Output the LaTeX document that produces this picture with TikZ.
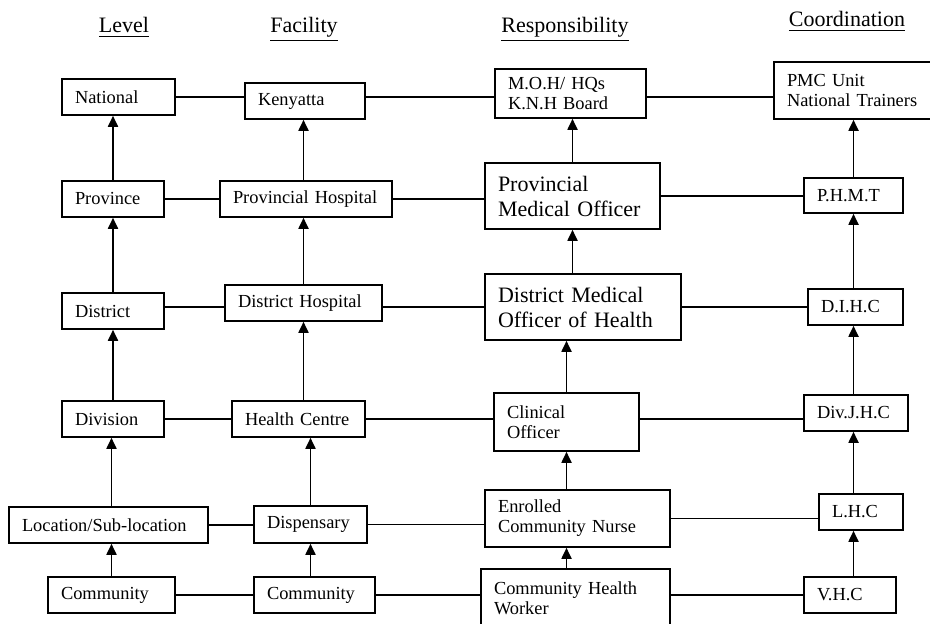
\documentclass[tikz,border=0pt]{standalone}
\usepackage{fontspec}
\setmainfont{Liberation Serif}
\usetikzlibrary{arrows.meta}

\begin{document}
\begin{tikzpicture}[x=0.5pt,y=-0.5pt,
  box/.style={draw,line width=.8pt,inner xsep=6.5pt,inner ysep=0pt,minimum height=18pt,align=left,font=\fontsize{9.2pt}{10pt}\selectfont},
  big/.style={box,font=\fontsize{11pt}{12.5pt}\selectfont},
  head/.style={anchor=base,font=\fontsize{11pt}{13pt}\selectfont},
  up/.style={-{Triangle[length=5.5pt,width=5pt]},line width=.9pt},
  link/.style={line width=.8pt}]
\clip (0,0) rectangle (930,624);

\node[head] (hlevel) at (124,33) {\underline{Level}};
\node[head] (hfacility) at (304,33) {\underline{Facility}};
\node[head] (hresp) at (565,33) {\underline{Responsibility}};
\node[head] (hcoord) at (847,27) {\underline{Coordination}};

\node[box,text width=43.5pt] (national) at (118.5,97) {National};
\node[box,text width=38pt] (province) at (113,199) {Province};
\node[box,text width=38pt] (district) at (113,311) {District};
\node[box,text width=38pt] (division) at (113,419) {Division};
\node[box,text width=86.5pt] (location) at (108.5,525) {Location/Sub-location};
\node[box,text width=50.5pt] (commA) at (111.5,595) {Community};

\node[box,text width=47pt] (kenyatta) at (305,101) {Kenyatta};
\node[box,text width=73pt] (provhosp) at (306,199) {Provincial Hospital};
\node[box,text width=65.5pt] (disthosp) at (303.5,303) {District Hospital};
\node[box,text width=53.5pt] (hcentre) at (298.5,419) {Health Centre};
\node[box,text width=43.5pt,minimum height=18.5pt] (dispensary) at (310.5,524.5) {Dispensary};
\node[box,text width=47.5pt] (commB) at (314.5,595) {Community};

\node[box,text width=62.5pt,minimum height=24.5pt] (moh) at (570.5,93.5) {M.O.H/ HQs\\K.N.H Board};
\node[big,text width=74.5pt,minimum height=33pt] (pmo) at (572.5,196) {Provincial\\Medical Officer};
\node[big,text width=85pt,minimum height=33pt] (dmoh) at (583,307) {District Medical\\Officer of Health};
\node[box,text width=59.5pt,minimum height=29pt] (clinical) at (566.5,422) {Clinical\\Officer};
\node[box,text width=79.5pt,minimum height=28.5pt] (ecn) at (577.5,518.5) {Enrolled\\Community Nurse};
\node[box,text width=81.5pt,minimum height=29pt] (chw) at (575.5,598) {Community Health\\Worker};

\node[box,text width=67pt,minimum height=28.5pt] (pmc) at (854,90.5) {PMC Unit\\National Trainers};
\node[box,text width=36.5pt,minimum height=17.5pt] (phmt) at (853.5,195.5) {P.H.M.T};
\node[box,text width=34.5pt] (dihc) at (855.5,307) {D.I.H.C};
\node[box,text width=39pt] (divjhc) at (856,413) {Div.J.H.C};
\node[box,text width=29pt] (lhc) at (861,512) {L.H.C};
\node[box,text width=33pt] (vhc) at (850,595) {V.H.C};

\draw[link] (national.east) -- (kenyatta.west |- national.east);
\draw[link] (kenyatta.east |- national.east) -- (moh.west |- national.east);
\draw[link] (moh.east |- national.east) -- (pmc.west |- national.east);
\draw[link] (province.east) -- (province.east -| provhosp.west);
\draw[link] (provhosp.east) -- (provhosp.east -| pmo.west);
\draw[link] (pmo.east) -- (pmo.east -| phmt.west);
\draw[link] (district.east |- dmoh.east) -- (disthosp.west |- dmoh.east);
\draw[link] (disthosp.east |- dmoh.east) -- (dmoh.west);
\draw[link] (dmoh.east) -- (dmoh.east -| dihc.west);
\draw[link] (division.east) -- (division.east -| hcentre.west);
\draw[link] (hcentre.east) -- (hcentre.east -| clinical.west);
\draw[link] (clinical.east |- division.east) -- (divjhc.west |- division.east);
\draw[link] (location.east) -- (location.east -| dispensary.west);
\draw[link] (dispensary.east) -- (dispensary.east -| ecn.west);
\draw[link] (ecn.east) -- (ecn.east -| lhc.west);
\draw[link] (commA.east) -- (commA.east -| commB.west);
\draw[link] (commB.east) -- (commB.east -| chw.west);
\draw[link] (chw.east |- commA.east) -- (vhc.west |- commA.east);

\draw[up] (province.north) -- (province.north |- national.south);
\draw[up] (district.north) -- (district.north |- province.south);
\draw[up] (division.north) -- (division.north |- district.south);
\draw[up] (commA.north |- location.north) -- (commA.north |- division.south);
\draw[up] (commA.north) -- (commA.north |- location.south);

\draw[up] (disthosp.north |- provhosp.north) -- (disthosp.north |- kenyatta.south);
\draw[up] (disthosp.north) -- (disthosp.north |- provhosp.south);
\draw[up] (disthosp.south |- hcentre.north) -- (disthosp.south);
\draw[up] (dispensary.north) -- (dispensary.north |- hcentre.south);
\draw[up] (dispensary.south |- commB.north) -- (dispensary.south);

\draw[up] (pmo.north) -- (pmo.north |- moh.south);
\draw[up] (pmo.south |- dmoh.north) -- (pmo.south);
\draw[up] (clinical.north) -- (clinical.north |- dmoh.south);
\draw[up] (clinical.south |- ecn.north) -- (clinical.south);
\draw[up] (clinical.south |- chw.north) -- (clinical.south |- ecn.south);

\draw[up] (phmt.north) -- (phmt.north |- pmc.south);
\draw[up] (phmt.south |- dihc.north) -- (phmt.south);
\draw[up] (phmt.south |- divjhc.north) -- (phmt.south |- dihc.south);
\draw[up] (phmt.south |- lhc.north) -- (phmt.south |- divjhc.south);
\draw[up] (phmt.south |- vhc.north) -- (phmt.south |- lhc.south);
\end{tikzpicture}
\end{document}
